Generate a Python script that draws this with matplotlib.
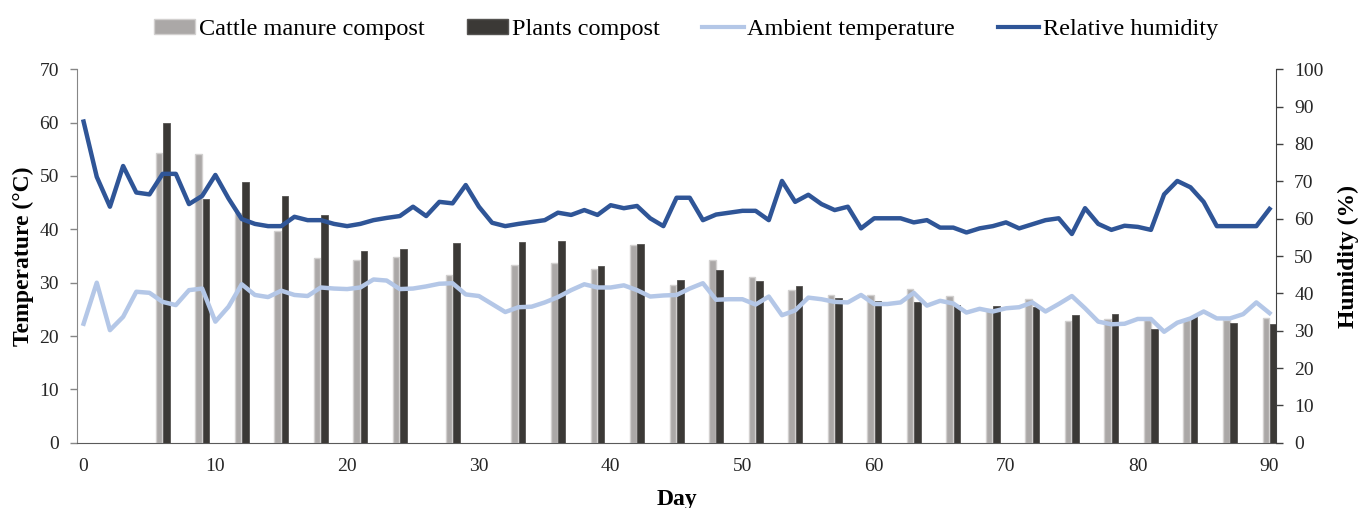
import matplotlib.pyplot as plt
import numpy as np
from matplotlib.patches import Patch
from matplotlib.lines import Line2D

plt.rcParams['font.family'] = ['Liberation Serif', 'DejaVu Serif']

# Compost temperature measured every few days (°C)
sample_days = [6, 9, 12, 15, 18, 21, 24, 28, 33, 36, 39, 42, 45, 48,
               51, 54, 57, 60, 63, 66, 69, 72, 75, 78, 81, 84, 87, 90]
cattle_temp = [54.3, 54.1, 43.0, 39.6, 34.7, 34.2, 34.9, 31.4, 33.3, 33.7,
               32.6, 37.1, 29.6, 34.2, 31.1, 28.6, 27.7, 27.6, 28.8, 27.5,
               25.1, 26.9, 22.9, 23.2, 23.0, 23.0, 23.0, 23.4]
plants_temp = [59.9, 45.7, 48.9, 46.3, 42.6, 35.9, 36.4, 37.5, 37.6, 37.9,
               33.2, 37.3, 30.5, 32.3, 30.3, 29.3, 27.1, 26.6, 26.3, 25.9,
               25.6, 25.5, 24.0, 24.1, 21.4, 23.8, 22.4, 22.2]

# Daily weather readings, day 0 to day 90
days = list(range(91))
ambient_temp = [22.3, 30.0, 21.1, 23.6, 28.3, 28.1, 26.4, 25.8, 28.6, 28.9,
                22.7, 25.5, 29.7, 27.7, 27.3, 28.5, 27.7, 27.5, 29.1, 28.9,
                28.8, 29.1, 30.6, 30.4, 28.8, 28.9, 29.3, 29.8, 29.9, 27.8,
                27.5, 26.0, 24.5, 25.4, 25.5, 26.3, 27.3, 28.6, 29.7, 29.1,
                29.1, 29.5, 28.6, 27.4, 27.6, 27.7, 28.9, 29.9, 26.8, 26.9,
                26.9, 25.9, 27.4, 23.9, 24.8, 27.2, 26.9, 26.4, 26.3, 27.7,
                26.0, 26.0, 26.3, 28.1, 25.7, 26.6, 26.1, 24.4, 25.1, 24.6,
                25.2, 25.4, 26.3, 24.6, 26.0, 27.5, 25.2, 22.7, 22.2, 22.3,
                23.2, 23.2, 20.8, 22.5, 23.3, 24.6, 23.3, 23.3, 24.1, 26.3,
                24.3]
humidity = [86.0, 71.2, 63.2, 74.1, 67.0, 66.5, 72.0, 72.0, 63.9, 66.1,
            71.7, 65.4, 59.9, 58.6, 58.0, 58.0, 60.5, 59.6, 59.6, 58.6,
            58.0, 58.6, 59.6, 60.2, 60.7, 63.2, 60.7, 64.5, 64.1, 69.0,
            63.2, 58.9, 58.0, 58.6, 59.1, 59.6, 61.6, 61.0, 62.3, 61.0,
            63.6, 62.8, 63.4, 60.1, 58.0, 65.6, 65.6, 59.6, 61.1, 61.6,
            62.1, 62.1, 59.6, 70.1, 64.5, 66.4, 63.9, 62.3, 63.2, 57.4,
            60.1, 60.1, 60.1, 59.0, 59.6, 57.6, 57.6, 56.3, 57.4, 58.0,
            59.0, 57.4, 58.5, 59.6, 60.1, 55.9, 62.8, 58.6, 57.0, 58.1,
            57.8, 57.0, 66.5, 70.1, 68.4, 64.5, 58.0, 58.0, 58.0, 58.0,
            62.6]

gray_col = '#aba8a7'
dark_col = '#3b3936'
amb_col = '#b4c7e7'
hum_col = '#2f5597'

fig = plt.figure(figsize=(13.58, 5.08), dpi=100)
ax = fig.add_axes([0.0567, 0.1285, 0.883, 0.7351])
ax2 = ax.twinx()

x = np.array(sample_days)
w = 0.5
ax.bar(x - 0.28, cattle_temp, width=w, color=gray_col, edgecolor='#d2d0cf',
       linewidth=1, zorder=2)
ax.bar(x + 0.28, plants_temp, width=w, color=dark_col, edgecolor='#555351',
       linewidth=0.6, zorder=2)
ax.plot(days, ambient_temp, color=amb_col, lw=3.2, zorder=3,
        solid_joinstyle='round')
ax2.plot(days, humidity, color=hum_col, lw=3.2, solid_joinstyle='round')

ax.set_xlim(-0.5, 90.5)
ax.set_ylim(0, 70)
ax2.set_ylim(0, 100)
ax.set_xticks(range(0, 91, 10))
ax.set_yticks(range(0, 71, 10))
ax2.set_yticks(range(0, 101, 10))

for a in (ax, ax2):
    a.spines['top'].set_visible(False)
ax.spines['right'].set_visible(False)
ax.spines['left'].set_color('#868686')
ax.spines['bottom'].set_color('#5a5a5a')
ax2.spines['left'].set_visible(False)
ax2.spines['bottom'].set_visible(False)
ax2.spines['right'].set_color('#404040')

ax.tick_params(axis='x', length=0, pad=11, labelsize=14, colors='#262626')
ax.tick_params(axis='y', length=5, width=1, pad=8, labelsize=14,
               colors='#262626')
ax.tick_params(axis='y', color='#868686')
ax2.tick_params(axis='y', length=5, width=1, pad=8, labelsize=14,
                colors='#262626')
ax2.tick_params(axis='y', color='#404040')

ax.set_xlabel('Day', fontsize=17, fontweight='bold', labelpad=10)
ax.set_ylabel('Temperature (°C)', fontsize=17, fontweight='bold', labelpad=4)
ax2.set_ylabel('Humidity (%)', fontsize=17, fontweight='bold', labelpad=10)

handles = [Patch(facecolor=gray_col, edgecolor='#d2d0cf'),
           Patch(facecolor=dark_col, edgecolor='#555351'),
           Line2D([], [], color=amb_col, lw=3),
           Line2D([], [], color=hum_col, lw=3)]
labels = ['Cattle manure compost', 'Plants compost', 'Ambient temperature',
          'Relative humidity']
fig.legend(handles, labels, loc='center', bbox_to_anchor=(0.505, 0.942),
           ncol=4, frameon=False, fontsize=17.5, handlelength=1.7,
           handletextpad=0.15, columnspacing=1.75, handleheight=0.6)

fig.savefig('out.png', dpi=100)
